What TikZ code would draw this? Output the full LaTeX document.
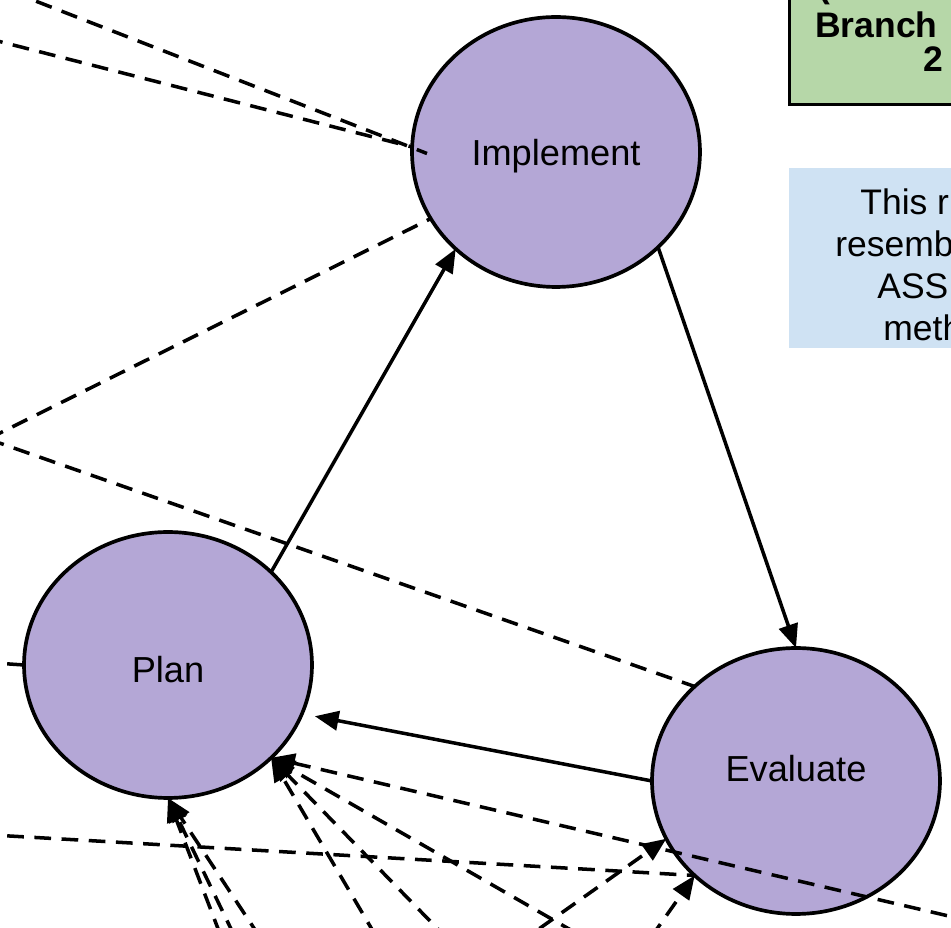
\documentclass[tikz,border=0pt]{standalone}
\usepackage{fontspec}
\setmainfont{Liberation Sans}
\usetikzlibrary{arrows.meta,shapes.geometric}
\definecolor{nodefill}{HTML}{B4A7D6}
\definecolor{greenfill}{HTML}{B6D7A8}
\definecolor{bluefill}{HTML}{CFE2F3}
\tikzset{
  stage/.style={ellipse, draw=black, line width=2.1pt, fill=nodefill,
    minimum width=5.76cm, minimum height=5.32cm, inner sep=0pt, outer sep=0pt},
  lbl/.style={inner sep=0pt, font=\fontsize{20.6}{23.5}\selectfont},
  greenbox/.style={rectangle, draw=black, line width=2.1pt, fill=greenfill,
    minimum width=6cm, minimum height=4cm, inner sep=0pt, outer sep=0pt},
  bluebox/.style={rectangle, draw=none, fill=bluefill,
    minimum width=6cm, minimum height=3.6cm, inner sep=0pt, outer sep=0pt},
  boldtxt/.style={anchor=base west, inner sep=0pt, font=\bfseries\fontsize{20.2}{23}\selectfont},
  notetxt/.style={anchor=base west, inner sep=0pt, font=\fontsize{20.2}{23}\selectfont},
  conn/.style={line width=2pt, -{Triangle[length=13.5pt,width=11pt]}},
  dconn/.style={conn, dash pattern=on 9.5pt off 6pt},
  dline/.style={line width=2pt, dash pattern=on 9.5pt off 6pt},
}
\begin{document}
\begin{tikzpicture}[x=0.02cm,y=-0.02cm]
\useasboundingbox (0,0) rectangle (951,928);
\clip (0,0) rectangle (951,928);

% side boxes
\node[greenbox, anchor=south west] (branchbox) at (789.5,104.5) {};
\node[boldtxt] (paren) at (818,-2) {(};
\node[boldtxt] (branchtxt) at (815,38) {Branch};
\node[boldtxt] (twotxt) at (923,72) {2};
\node[bluebox, anchor=north west] (notebox) at (789,168) {};
\node[notetxt] (note1) at (860,215) {This r};
\node[notetxt] (note2) at (835,257) {resemb};
\node[notetxt] (note3) at (877,299) {ASS};
\node[notetxt] (note4) at (883,341) {meth};

% stages
\node[stage, minimum height=5.4cm, label={[lbl, yshift=-2.5pt]center:Implement}] (implement) at (556,152) {};
\node[stage, label={[lbl, yshift=-2.8pt]center:Plan}] (plan) at (168,665) {};
\node[stage, label={[lbl, yshift=6.8pt]center:Evaluate}] (evaluate) at (796,781) {};

% free ends outside the visible area
\coordinate (tl1) at (-40,-28.4);
\coordinate (tl2) at (-40,31.4);
\coordinate (implin) at (427,153.5);
\coordinate (offL) at (-12,439);
\coordinate (lplan) at (-20,662);
\coordinate (leval) at (-20,834.3);
\coordinate (rout) at (1000,928);
\coordinate (b1) at (623,960);
\coordinate (b2) at (468,960);
\coordinate (b3) at (390,960);
\coordinate (b4) at (230,960);
\coordinate (b5) at (246,960);
\coordinate (b6) at (275,960);
\coordinate (b7) at (495,960);
\coordinate (b8) at (635,960);

% dashed connectors
\draw[dline] (tl1) -- (implin);
\draw[dline] (tl2) -- (implement.178);
\draw[dline] (offL) -- (implement.-152.7);
\draw[dline] (offL) -- (evaluate.137.3);
\draw[dline] (lplan) -- (plan.west);
\draw[dline] (leval) -- (evaluate.-137.5);
\draw[dconn] (rout) -- (plan.-42.7);
\draw[dconn] (b1) -- (plan.-42.7);
\draw[dconn] (b2) -- (plan.-42.7);
\draw[dconn] (b3) -- (plan.-42.7);
\draw[dconn] (b4) -- (plan.south);
\draw[dconn] (b5) -- (plan.south);
\draw[dconn] (b6) -- (plan.south);
\draw[dconn] (b7) -- (evaluate.-156.5);
\draw[dconn] (b8) -- (evaluate.-137.5);

% solid cycle
\draw[conn] (plan.42.4) -- (implement.-136.6);
\draw[conn] (implement.-43.4) -- (evaluate.north);
\draw[conn, shorten >=7.5pt] (evaluate.west) -- (plan.-20.5);
\end{tikzpicture}
\end{document}
